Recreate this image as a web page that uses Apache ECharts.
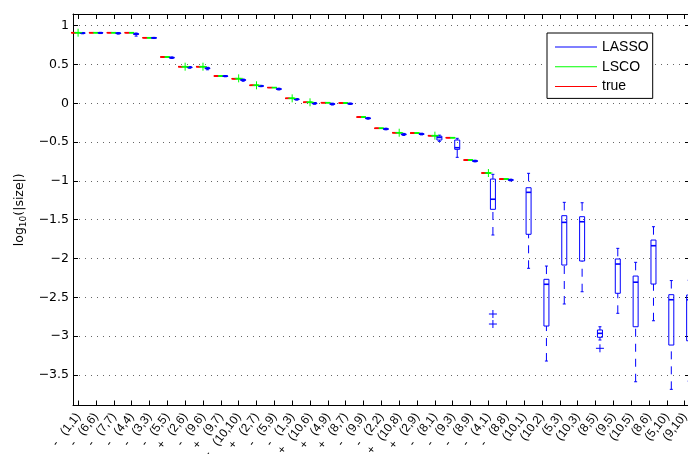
<!DOCTYPE html>
<html>
<head>
<meta charset="utf-8">
<script src="https://cdn.jsdelivr.net/npm/echarts@6/dist/echarts.min.js"></script>
<style>
  html, body { margin: 0; padding: 0; background: #fff; }
  #chart { width: 688px; height: 454px; }
</style>
</head>
<body>
<div id="chart"></div>
<script>
// Coefficient index pairs, in plotting order
const categories = ['(1,1)','(6,6)','(7,7)','(4,4)','(3,3)','(5,5)','(2,6)','(9,6)','(9,7)','(10,10)',
  '(2,7)','(5,9)','(1,3)','(10,6)','(4,9)','(8,7)','(9,9)','(2,2)','(10,8)','(2,9)',
  '(8,1)','(9,3)','(8,9)','(4,1)','(8,8)','(10,1)','(10,2)','(5,3)','(10,3)','(8,5)',
  '(9,5)','(10,5)','(8,6)','(5,10)','(9,10)'];

// Sign of the true coefficient (empty where the true coefficient is zero)
const signs = ['-','-','-','-','-','-','+','-','+','-',
  '+','-','-','+','+','+','-','-','+','+',
  '-','-','-','-','-','','','','','',
  '','','','',''];

// log10(|size|) of the true coefficients (first 25 entries are non-zero)
const trueValues = [0.91, 0.91, 0.91, 0.91, 0.845, 0.597, 0.472, 0.472, 0.352, 0.317,
  0.232, 0.203, 0.064, 0.013, 0.008, 0.004, -0.177, -0.322, -0.379, -0.383,
  -0.417, -0.443, -0.731, -0.898, -0.976];

// LSCO estimates (collapsed to a single value per coefficient)
const lscoValues = [0.91, 0.91, 0.91, 0.91, 0.845, 0.597, 0.472, 0.472, 0.352, 0.317,
  0.232, 0.203, 0.064, 0.013, 0.008, 0.004, -0.177, -0.322, -0.379, -0.383,
  -0.417, -0.443, -0.731, -0.898, -0.976];

// LSCO outliers: [coefficient number, value]
const lscoOutliers = [[1, 0.91], [7, 0.472], [8, 0.472], [10, 0.322], [11, 0.232],
  [13, 0.064], [14, 0.013], [19, -0.379], [21, -0.417], [24, -0.898]];

// LASSO estimates: [lower whisker, Q1, median, Q3, upper whisker]
const lassoStats = [
  [0.896, 0.902, 0.905, 0.908, 0.913],
  [0.899, 0.905, 0.908, 0.911, 0.915],
  [0.892, 0.899, 0.903, 0.906, 0.911],
  [0.866, 0.888, 0.893, 0.898, 0.906],
  [0.835, 0.840, 0.843, 0.846, 0.850],
  [0.578, 0.585, 0.588, 0.592, 0.598],
  [0.452, 0.460, 0.464, 0.468, 0.474],
  [0.432, 0.447, 0.451, 0.456, 0.464],
  [0.342, 0.347, 0.350, 0.353, 0.358],
  [0.284, 0.296, 0.300, 0.305, 0.313],
  [0.214, 0.220, 0.223, 0.227, 0.232],
  [0.172, 0.180, 0.184, 0.188, 0.195],
  [0.041, 0.048, 0.052, 0.056, 0.062],
  [-0.012, -0.004, 0.000, 0.004, 0.010],
  [-0.022, -0.013, -0.009, -0.005, 0.002],
  [-0.015, -0.008, -0.005, -0.002, 0.004],
  [-0.204, -0.197, -0.193, -0.189, -0.182],
  [-0.342, -0.335, -0.331, -0.327, -0.320],
  [-0.414, -0.404, -0.400, -0.396, -0.388],
  [-0.407, -0.400, -0.396, -0.392, -0.385],
  [-0.490, -0.473, -0.440, -0.423, -0.410],
  [-0.696, -0.593, -0.572, -0.473, -0.451],
  [-0.755, -0.748, -0.744, -0.740, -0.733],
  [-1.697, -1.366, -1.236, -0.976, -0.915],
  [-1.000, -0.992, -0.988, -0.984, -0.977],
  [-2.126, -1.688, -1.147, -1.088, -0.902],
  [-3.321, -2.870, -2.332, -2.268, -2.097],
  [-2.586, -2.084, -1.534, -1.448, -1.276],
  [-2.428, -2.032, -1.526, -1.461, -1.281],
  [-3.050, -3.015, -2.964, -2.921, -2.879],
  [-2.706, -2.448, -2.071, -2.006, -1.869],
  [-3.588, -2.879, -2.305, -2.226, -2.049],
  [-2.802, -2.329, -1.835, -1.762, -1.590],
  [-3.686, -3.115, -2.531, -2.466, -2.284],
  [-3.580, -3.060, -2.531, -2.470, -2.280]
];

// LASSO outliers: [coefficient number, value]
const lassoOutliers = [[24, -2.715], [24, -2.844], [30, -3.157]];

// Axis tick values
const yTicks = [1, 0.5, 0, -0.5, -1, -1.5, -2, -2.5, -3, -3.5];
const xTicks = categories.map((c, i) => i + 1);

const BLUE = '#0000ff', GREEN = '#00ff00', RED = '#ff0000';
const BOX_W = 5, CAP_W = 3, PLUS = 4;

// Build [x, low, q1, median, q3, high] rows
const pointRows = vals => vals.map((v, i) => [i + 1, v, v, v, v, v]);
const statRows = stats => stats.map((s, i) => [i + 1].concat(s));

function boxRenderer(color, offsetPx) {
  return function (params, api) {
    const x = api.value(0);
    const yLo = api.coord([x, api.value(1)])[1];
    const yQ1 = api.coord([x, api.value(2)])[1];
    const pMed = api.coord([x, api.value(3)]);
    const yQ3 = api.coord([x, api.value(4)])[1];
    const yHi = api.coord([x, api.value(5)])[1];
    const cx = pMed[0] + offsetPx;
    const solid = { stroke: color, lineWidth: 1, fill: null };
    const median = { stroke: color, lineWidth: 1.6, fill: null };
    const dashed = { stroke: color, lineWidth: 1, lineDash: [8, 7], fill: null };
    const children = [];
    if (yQ3 - yHi > 0.5) children.push({ type: 'line', shape: { x1: cx, y1: yHi, x2: cx, y2: yQ3 }, style: dashed });
    if (yLo - yQ1 > 0.5) children.push({ type: 'line', shape: { x1: cx, y1: yLo, x2: cx, y2: yQ1 }, style: dashed });
    children.push({ type: 'line', shape: { x1: cx - CAP_W / 2, y1: yHi, x2: cx + CAP_W / 2, y2: yHi }, style: solid });
    children.push({ type: 'line', shape: { x1: cx - CAP_W / 2, y1: yLo, x2: cx + CAP_W / 2, y2: yLo }, style: solid });
    children.push({ type: 'rect', shape: { x: cx - BOX_W / 2, y: yQ3, width: BOX_W, height: Math.max(yQ1 - yQ3, 0) }, style: solid });
    children.push({ type: 'line', shape: { x1: cx - BOX_W / 2, y1: pMed[1], x2: cx + BOX_W / 2, y2: pMed[1] }, style: median });
    return { type: 'group', children: children };
  };
}

function plusRenderer(color, offsetPx) {
  return function (params, api) {
    const p = api.coord([api.value(0), api.value(1)]);
    const cx = p[0] + offsetPx, cy = p[1];
    const st = { stroke: color, lineWidth: 1 };
    return { type: 'group', children: [
      { type: 'line', shape: { x1: cx - PLUS, y1: cy, x2: cx + PLUS, y2: cy }, style: st },
      { type: 'line', shape: { x1: cx, y1: cy - PLUS, x2: cx, y2: cy + PLUS }, style: st }
    ] };
  };
}

const X_MIN = 0.714, X_MAX = 35.3;
const Y_MIN = -3.894, Y_MAX = 1.151;
const fmtY = v => String(v).replace('-', '\u2212');
const xLabel = v => {
  const i = Math.round(v) - 1;
  return (signs[i] ? signs[i] + '   ' : '') + categories[i];
};

const chart = echarts.init(document.getElementById('chart'), null, { renderer: 'canvas' });

chart.setOption({
  animation: false,
  backgroundColor: '#fff',
  grid: { left: 73, right: -2, top: 14, bottom: 48.5, containLabel: false, outerBoundsMode: 'none' },
  legend: {
    orient: 'vertical',
    left: 547, top: 33,
    padding: [7, 4, 5, 8],
    itemGap: 5.7,
    itemWidth: 42, itemHeight: 1,
    icon: 'rect',
    borderColor: '#000', borderWidth: 1, backgroundColor: '#fff',
    textStyle: { fontFamily: 'Liberation Sans', fontSize: 14, color: '#000', lineHeight: 14 },
    data: [
      { name: 'LASSO', itemStyle: { color: BLUE } },
      { name: 'LSCO', itemStyle: { color: GREEN } },
      { name: 'true', itemStyle: { color: RED } }
    ]
  },
  xAxis: [
    {
      type: 'value', min: X_MIN, max: X_MAX, position: 'bottom',
      axisLine: { show: true, onZero: false, lineStyle: { color: '#000', width: 1 } },
      axisTick: { show: true, inside: true, length: 5, customValues: xTicks, lineStyle: { color: '#000' } },
      axisLabel: {
        show: true, customValues: xTicks, rotate: 52, margin: 9,
        fontFamily: 'Liberation Sans', fontSize: 12, color: '#000',
        hideOverlap: false,
        formatter: xLabel
      },
      splitLine: { show: false }
    },
    {
      type: 'value', min: X_MIN, max: X_MAX, position: 'top',
      axisLine: { show: true, onZero: false, lineStyle: { color: '#000', width: 1 } },
      axisTick: { show: true, inside: true, length: 5, customValues: xTicks, lineStyle: { color: '#000' } },
      axisLabel: { show: false },
      splitLine: { show: false }
    }
  ],
  yAxis: [
    {
      type: 'value', min: Y_MIN, max: Y_MAX, position: 'left',
      name: '{a|log}{b|10}{a|(|size|)}',
      nameLocation: 'middle', nameGap: 43, nameRotate: 90,
      nameTextStyle: {
        rich: {
          a: { fontFamily: 'DejaVu Sans', fontSize: 12.5, color: '#000', lineHeight: 16, verticalAlign: 'middle' },
          b: { fontFamily: 'DejaVu Sans', fontSize: 9, color: '#000', lineHeight: 9, verticalAlign: 'bottom' }
        }
      },
      axisLine: { show: true, onZero: false, lineStyle: { color: '#000', width: 1 } },
      axisTick: { show: true, inside: true, length: 5, customValues: yTicks, lineStyle: { color: '#000' } },
      axisLabel: {
        show: true, customValues: yTicks, margin: 4,
        fontFamily: 'DejaVu Sans', fontSize: 12.5, color: '#000',
        formatter: fmtY
      },
      splitLine: { show: true, lineStyle: { color: '#666', width: 1, type: [1, 5] } }
    },
    {
      type: 'value', min: Y_MIN, max: Y_MAX, position: 'right',
      axisLine: { show: true, onZero: false, lineStyle: { color: '#000', width: 1 } },
      axisTick: { show: true, inside: true, length: 5, customValues: yTicks, lineStyle: { color: '#000' } },
      axisLabel: { show: false },
      splitLine: { show: false }
    }
  ],
  series: [
    {
      name: 'true', type: 'custom', xAxisIndex: 0, yAxisIndex: 0,
      itemStyle: { color: RED },
      encode: { x: 0, y: [1, 2, 3, 4, 5] },
      renderItem: boxRenderer(RED, -4.5),
      data: pointRows(trueValues)
    },
    {
      name: 'LSCO', type: 'custom', xAxisIndex: 0, yAxisIndex: 0,
      itemStyle: { color: GREEN },
      encode: { x: 0, y: [1, 2, 3, 4, 5] },
      renderItem: boxRenderer(GREEN, 0),
      data: pointRows(lscoValues)
    },
    {
      name: 'LASSO', type: 'custom', xAxisIndex: 0, yAxisIndex: 0,
      itemStyle: { color: BLUE },
      encode: { x: 0, y: [1, 2, 3, 4, 5] },
      renderItem: boxRenderer(BLUE, 4.5),
      data: statRows(lassoStats)
    },
    {
      name: 'LSCO', type: 'custom', xAxisIndex: 0, yAxisIndex: 0,
      itemStyle: { color: GREEN },
      encode: { x: 0, y: 1 },
      renderItem: plusRenderer(GREEN, 0),
      data: lscoOutliers
    },
    {
      name: 'LASSO', type: 'custom', xAxisIndex: 0, yAxisIndex: 0,
      itemStyle: { color: BLUE },
      encode: { x: 0, y: 1 },
      renderItem: plusRenderer(BLUE, 4.5),
      data: lassoOutliers
    }
  ]
});
</script>
</body>
</html>
